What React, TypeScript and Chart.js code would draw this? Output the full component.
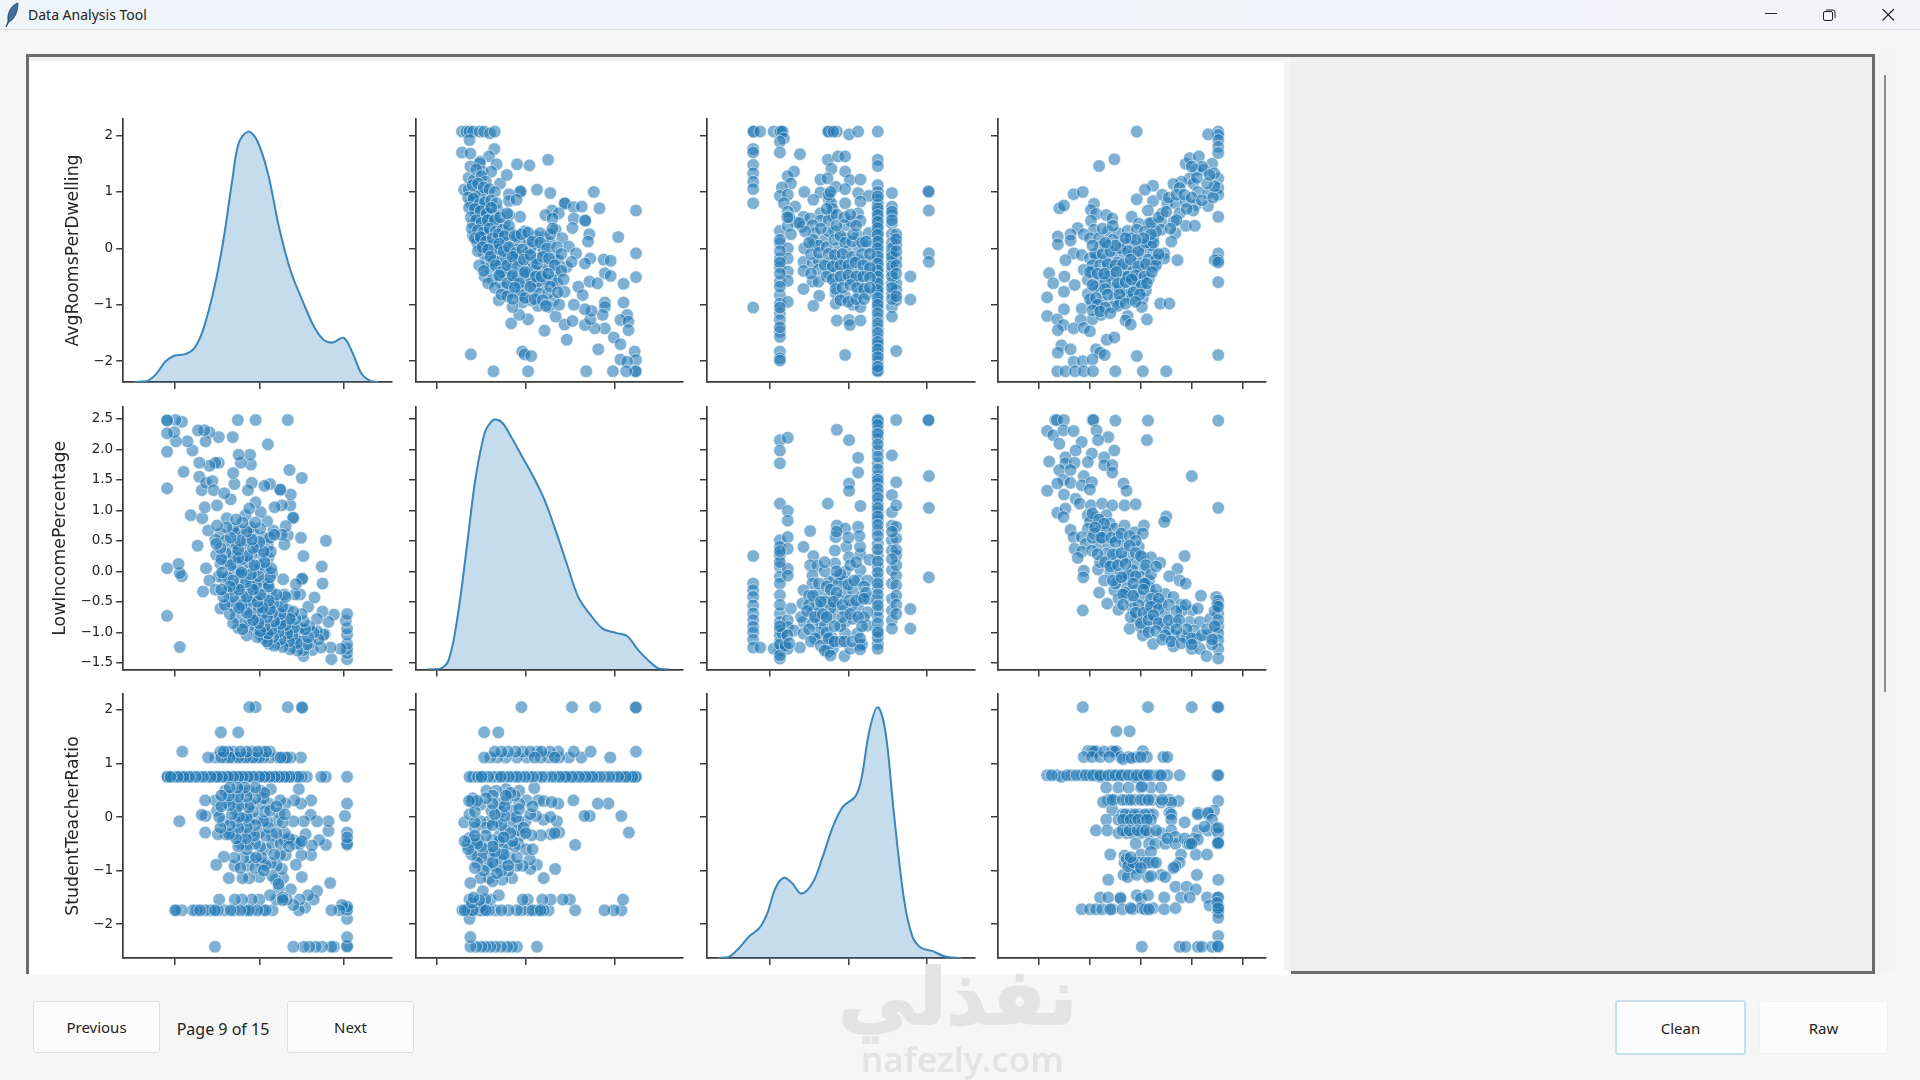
import React, { useEffect, useRef } from "react";
import { Chart, registerables } from "chart.js";

Chart.register(...registerables);

// ---------- axis tick values and labels ----------
const roomsTicks = [-2, -1, 0, 1, 2];
const roomsTickLabels = ["−2", "−1", "0", "1", "2"];
const lowTicks = [-1.5, -1, -0.5, 0, 0.5, 1, 1.5, 2, 2.5];
const lowTickLabels = ["−1.5", "−1.0", "−0.5", "0.0", "0.5", "1.0", "1.5", "2.0", "2.5"];
const studentTicks = [-2, -1, 0, 1, 2];
const studentTickLabels = ["−2", "−1", "0", "1", "2"];
const roomsXTicks = [-2, 0, 2];
const lowXTicks = [-2, 0, 2];
const studentXTicks = [-2, 0, 2];
const fourthXTicks = [-2, -1, 0, 1, 2];
const rowTitles = ["AvgRoomsPerDwelling", "LowIncomePercentage", "StudentTeacherRatio"];

// ---------- density curves (value, density) ----------
const kdeRoomsX = [-2.96,-2.65,-2.44,-2.22,-2.01,-1.75,-1.54,-1.33,-1.06,-0.85,-0.64,-0.49,-0.27,-0.06,0.2,0.46,0.73,1.04,1.31,1.52,1.73,1.99,2.2,2.41,2.62,2.81];
const kdeRoomsY = [0,0.002,0.015,0.039,0.05,0.053,0.064,0.099,0.181,0.27,0.384,0.454,0.476,0.46,0.397,0.295,0.213,0.15,0.102,0.08,0.075,0.084,0.055,0.016,0.002,0];
const kdeLowX = [-2.24,-1.94,-1.74,-1.54,-1.34,-1.14,-0.93,-0.78,-0.68,-0.53,-0.33,-0.08,0.17,0.42,0.67,0.92,1.18,1.43,1.73,2.03,2.28,2.53,2.79,2.99,3.24];
const kdeLowY = [0,0.001,0.018,0.1,0.227,0.361,0.45,0.472,0.476,0.47,0.443,0.405,0.367,0.323,0.265,0.202,0.138,0.107,0.078,0.07,0.064,0.037,0.015,0.002,0];
const kdeStudentX = [-3.3,-3.04,-2.78,-2.52,-2.26,-2.06,-1.85,-1.64,-1.43,-1.2,-0.91,-0.65,-0.39,-0.13,0.18,0.33,0.54,0.75,0.95,1.16,1.42,1.63,1.84,2.15,2.46,2.88];
const kdeStudentY = [0,0.002,0.019,0.041,0.057,0.085,0.133,0.152,0.142,0.122,0.142,0.192,0.249,0.287,0.306,0.338,0.432,0.475,0.426,0.274,0.11,0.041,0.02,0.013,0.003,0];

// ---------- scatter pairs ----------
// [LowIncomePercentage, AvgRoomsPerDwelling]
const lowRoomsSparse: number[][] = [
[-1.44,2.07],[-1.34,2.07],[-1.27,2.07],[-1.19,2.07],[-1.04,2.07],[-0.94,2.07],[-0.81,2.04],[-0.7,2.07],[-1.27,1.92],
[-1.44,1.7],[-1.25,1.68],[-0.71,1.76],[-0.83,1.63],[-1.03,1.54],[-0.66,1.49],[-0.2,1.49],[0.08,1.47],[0.5,1.57],
[-1.29,1.25],[-1.17,1.21],[-1.04,1.51],[-0.98,1.36],[-0.78,1.36],[-0.58,1.15],[-0.43,1.3],[-1.39,1.04],[-1.29,1.04],[-1.04,0.99],[-0.93,0.95],[-1.24,0.8],[-1.09,0.83],[-0.83,0.74],[-0.63,0.67],[-1.14,0.62],[-0.98,0.56],[-0.73,0.62],[-1.19,0.44],[-0.93,0.38],[-0.48,0.44],[-1.19,0.22],[-0.88,0.27],[-0.58,0.18],[-0.33,0.27],[-0.03,0.3],[0.22,0.21],[0.42,0.2],[0.67,0.33],[-1.04,0.03],[-0.78,0.03],[-0.28,0],[0.02,-0.09],[0.27,0.06],[0.62,-0.15],[-0.88,-0.24],[-0.48,-0.24],[-0.13,-0.21],[0.27,-0.18],[0.72,-0.21],[-0.93,-0.5],[-0.63,-0.36],[-0.33,-0.38],[0.02,-0.38],[0.37,-0.41],[0.67,-0.44],[0.92,-0.33],[-0.58,-0.59],[-0.28,-0.59],[0.12,-0.53],[0.62,-0.56],[-0.33,-0.77],[-0.13,-0.83],[0.17,-0.73],[0.37,-0.65],[0.87,-0.77],[-0.08,-0.96],[0.27,-1.02],[0.62,-0.92],[0.12,-0.92],[0.52,-1.04],
[-1.1,0.1],[-0.95,-0.1],[-0.7,-0.1],[-0.55,-0.2],[-0.4,-0.1],[-0.15,0.1],[0.1,0],[0.4,-0.05],[0.55,0.1],[-0.75,-0.55],[-0.45,-0.45],[-0.2,-0.5],[0,-0.6],[0.25,-0.6],[0.45,-0.55],[-0.1,-0.75],[0.3,-0.8],[0.5,-0.8],[-0.95,0.7],[-1.15,0.95],[-0.65,0.45],[-0.8,0.5],
[-1,0.15],[-0.68,0.08],[-0.45,0.1],[-0.2,0.2],[0.05,0.15],[-0.85,-0.35],[-0.6,-0.02],[-0.25,-0.2],[0.15,-0.25],[0.5,-0.3],[-0.05,-0.45],[0.2,-0.4],[-0.5,-0.7],
[1.53,1],[1.66,0.71],[2.48,0.67],[2.08,0.2],[2.48,-0.09],[2.48,-0.51],[1.75,-0.2],[1.91,-0.22],[1.78,-0.44],[1.91,-0.49],[2.2,-0.63],[1.78,-0.96],[2.2,-0.96],[1.78,-1.04],[1.73,-1.18],[2.28,-1.18],[2.13,-1.27],[2.31,-1.3],[2.31,-1.45],[1.78,-1.42],[1.55,-1.42],[1.98,-1.58],[2.13,-1.7],[1.63,-1.79],[2.45,-1.83],[2.48,-1.98],[2.13,-1.97],[2.28,-2.01],[2.48,-2.18],[2.47,-2.18],[2.26,-2.18],[1.96,-2.18],[1.36,-2.18],[0.05,-2.18],[-0.73,-2.18],[-1.24,-1.88],[-0.08,-1.83],[-0.03,-1.88],[0.12,-1.91],[0.92,-1.62],[0.42,-1.46],[-0.33,-1.33],[0.05,-1.26],[-0.15,-1.18],[0.67,-1.21],[0.87,-1.35],[1.05,-1.29],[1.33,-1.36],[1.45,-1.26],[1.48,-1.11],[1.33,-1.08],[1.08,-1],[-0.61,-0.92],[-0.3,-1.04],
[-0.13,1],[-0.12,1.01],[-0.38,0.96],[0.25,1.04],[0.55,0.98],[-0.38,0.84],[-0.21,0.86],[0.87,0.79],[0.88,0.8],[1.08,0.73],[1.26,0.74],[0.59,0.67],[0.44,0.59],[0.74,0.62],[0.6,0.53],[1.08,0.53],[1.33,0.5],[1.34,0.49],[-0.13,0.56],[-0.38,0.59],[1.05,0.36],[1.43,0.25],[1.4,0.12],[0.82,0.18],[0.97,0.03],[1.13,-0.09],[1.45,-0.18],[1.33,-0.27],[1.03,-0.24],[1.43,-0.59],[1.61,-0.62],[1.18,-0.68],[1.28,-0.83]
];
const lowRoomsDense: number[][] = [
[-1.25,1.45],[-1.12,1.4],[-1,1.28],[-0.9,1.18],[-1.2,1.12],[-1.08,1.15],[-0.95,1.08],[-0.82,1.05],[-0.7,1],[-1.3,0.9],[-1.18,0.88],[-1.05,0.78],[-0.92,0.82],[-0.78,0.85],[-0.66,0.8],[-1.28,0.72],[-1.15,0.7],[-1.02,0.66],[-0.88,0.62],[-0.78,0.72],[-1.24,0.55],[-1.12,0.5],[-1,0.45],[-0.86,0.5],[-0.7,0.5],[-0.58,0.55],[-0.42,0.62],[-1.22,0.35],[-1.08,0.32],[-0.96,0.28],[-0.82,0.35],[-0.68,0.3],[-0.52,0.33],[-0.38,0.4],[-1.15,0.18],[-1.02,0.2],[-0.9,0.12],[-0.75,0.18],[-0.62,0.25],[-0.48,0.22],[-0.25,0.22],[-0.1,0.25],[0.05,0.28],[0.32,0.27],[0.55,0.25],[0.6,0.35],
[-1.08,-0.05],[-0.98,0.02],[-0.85,-0.02],[-0.72,-0.22],[-0.6,0.08],[-0.5,-0.05],[-0.38,0.02],[-0.22,-0.08],[-0.08,-0.02],[0.15,0.12],[0.32,0.1],[0.48,0],[0.7,0.02],[0.8,-0.1],[-1.05,-0.3],[-0.95,-0.4],[-0.8,-0.15],[-0.68,-0.3],[-0.55,-0.42],[-0.42,-0.3],[-0.3,-0.15],[-0.18,-0.32],[-0.05,-0.2],[0.1,-0.12],[0.25,-0.28],[0.38,-0.15],[0.52,-0.18],[0.65,-0.3],[0.8,-0.4],[-0.85,-0.62],[-0.7,-0.7],[-0.6,-0.48],[-0.42,-0.62],[-0.3,-0.48],[-0.15,-0.62],[-0.02,-0.42],[0.1,-0.68],[0.22,-0.5],[0.35,-0.5],[0.5,-0.45],[0.7,-0.62],[0.85,-0.55],[-0.55,-0.82],[-0.42,-0.85],[-0.25,-0.7],[-0.02,-0.88],[0.2,-0.9],[0.38,-0.92],[0.55,-0.68],[0.72,-0.78],[0.45,-1.02],[0.75,-1],[-0.3,-0.9]
];
const lowRooms = [...lowRoomsSparse, ...lowRoomsDense];

// [StudentTeacherRatio, AvgRoomsPerDwelling]
const studentRoomsSparse: number[][] = [
[-2.42,2.07],[-2.41,2.07],[-2.42,1.76],[-2.42,1.7],[-2.42,1.48],[-2.42,1.33],[-2.42,1.18],[-2.42,1.05],[-2.42,0.8],[-2.42,-1.05],[-2.24,2.07],
[-1.9,2.07],[-1.74,2.07],[-1.72,2.07],[-1.67,2.07],[-1.64,1.95],[-1.74,1.89],[-1.74,1.7],[-1.74,0.31],[-1.74,0.09],[-1.74,-0.18],[-1.74,-0.33],[-1.74,-0.59],[-1.74,-0.83],[-1.74,-0.98],[-1.74,-1.15],[-1.74,-1.27],[-1.74,-1.48],[-1.74,-1.57],[-1.74,-1.83],[-1.74,-1.95],[-1.74,-1.99],
[0.75,2.07],[0.75,1.57],[0.75,1.46],[0.75,1.12],[0.75,1],[0.75,0.86],[0.75,0.77],[0.75,0.65],[0.75,0.53],[0.75,0.41],[0.75,0.3],[0.75,0.18],[0.75,0.06],[0.75,-0.09],[0.75,-0.21],[0.75,-0.33],[0.75,-0.44],[0.75,-0.56],[0.75,-0.68],[0.75,-0.8],[0.75,-0.95],[0.75,-1.07],[0.75,-1.24],[0.75,-1.42],[0.75,-1.6],[0.75,-1.72],[0.75,-1.86],[0.75,-2.01],[0.75,-2.18],[0.75,-2.17],
[1.11,0.98],[1.11,0.74],[1.11,0.59],[1.11,0.44],[1.11,0.25],[1.11,-0.09],[1.11,-0.24],[1.11,-0.41],[1.11,-0.62],[1.11,-0.8],[1.11,-1.04],[1.11,-1.21],[1.22,0.25],[1.22,0.06],[1.22,-0.18],[1.22,-0.62],[1.22,-0.74],[1.22,-0.92],[1.22,-1.82],
[2.05,1],[2.04,1.01],[2.05,0.67],[2.05,-0.09],[2.05,-0.24],[1.58,-0.5],[1.58,-0.91],
[-0.52,2.07],[-0.5,2.07],[-0.29,2.07],[-0.38,2.07],[0.02,2.02],[0.25,2.07],[-1.23,1.67],[-0.52,1.57],[-0.26,1.63],[-0.08,1.63],[-0.43,1.41],[-0.08,1.36],[-1.38,1.36],[-1.54,1.28],[-0.71,1.22],[-0.53,1.24],[0.04,1.21],[0.31,1.22],[-1.46,1.15],[-1.69,1.08],[-1.12,1],[-0.71,0.99],[-0.32,1.09],[-0.08,1.05],[0.25,0.98],[0.52,0.93],[-1.74,0.93],[-1.54,0.95],[-0.89,0.86],[-0.5,0.86],[-0.08,0.8],[0.31,0.83],[-1.64,0.8],[-1.35,0.74],[-1.54,0.65],[-0.43,0.8],[-0.71,0.62],[0.25,0.62],[-1.14,0.56],[-0.43,0.59],[-0.97,0.53],[-0.71,0.49],[0.31,0.49],[-1.33,0.46],[-1.54,0.4],[-1.17,0.38],[-0.91,0.41],[-0.08,0.41],[0.07,0.47],[-1.46,0.25],[-0.86,0.27],[-0.34,0.3],[0.25,0.22],[0.52,0.27],[-0.08,0.18],
[-1.54,0],[-1.12,0],[-0.86,0.06],[-0.6,0.15],[-0.29,0],[-0.03,-0.06],[0.25,0.03],[0.49,0.03],[-1.54,-0.18],[-1.14,-0.24],[-0.91,-0.27],[-0.76,-0.21],[-0.5,-0.27],[-0.29,-0.21],[-0.08,-0.24],[0.25,-0.21],[0.49,-0.24],[-1.54,-0.41],[-1.14,-0.4],[-0.76,-0.38],[-0.5,-0.44],[-0.29,-0.41],[-0.03,-0.38],[0.25,-0.41],[0.49,-0.44],[-0.91,-0.59],[-0.76,-0.59],[-1.54,-0.58],[-0.32,-0.62],[-0.08,-0.56],[0.12,-0.56],[0.33,-0.62],[-1.14,-0.72],[-0.74,-0.84],[-0.32,-0.8],[-0.08,-0.85],[0.28,-0.8],[0.49,-0.81],[-1.54,-0.95],[-0.89,-1.02],[-0.32,-0.98],[0.12,-1],[0.31,-1.04],[-0.29,-1.28],[0.02,-1.27],[0.04,-1.36],[0.31,-1.28],[-0.08,-1.89]
];
const studentRoomsDense: number[][] = [
[0.75,0.92],[0.75,0.71],[0.75,0.59],[0.75,0.47],[0.75,0.36],[0.75,0.24],[0.75,0.12],[0.75,0],[0.75,-0.15],[0.75,-0.27],[0.75,-0.39],[0.75,-0.5],[0.75,-0.62],[0.75,-0.74],[0.75,-0.88],[0.75,-1],[0.75,-1.15],[0.75,-1.33],[0.75,-1.5],[0.75,-1.66],[0.75,-1.79],[0.75,-1.93],[0.75,-2.1],
[1.11,0.65],[1.11,0.5],[1.11,0.1],[1.11,0],[1.11,-0.15],[1.11,-0.32],[1.11,-0.5],[1.11,-0.7],[1.11,-0.9],[1.22,0.16],[1.22,-0.05],[1.22,-0.3],[1.22,-0.45],[1.22,-0.85],
[-1.74,0.15],[-1.74,-0.05],[-1.74,-0.25],[-1.74,-0.45],[-1.74,-0.68],[-1.74,-1.05],[-1.74,-1.4],[-0.9,0.15],[-0.75,0.05],[-0.95,-0.1],[-0.75,-0.08],[-0.55,0.02],[-0.5,0.3],[-0.35,0.15],[-0.2,0.22],[-0.08,0.1],[0.1,0.12],[0.12,0.25],[0.35,0.1],[0.45,0.12],[-0.5,-0.1],[-0.35,-0.12],[-0.15,-0.1],[0.1,-0.15],[0.35,-0.1],[0.55,-0.1],[-0.6,-0.3],[-0.4,-0.32],[-0.2,-0.3],[0,-0.3],[0.18,-0.25],[0.38,-0.3],[0.55,-0.35],[-0.95,-0.45],[-0.55,-0.5],[-0.4,-0.55],[-0.2,-0.5],[0,-0.48],[0.2,-0.5],[0.38,-0.5],[0.55,-0.52],[-0.32,-0.72],[-0.15,-0.7],[0.05,-0.65],[0.22,-0.7],[0.4,-0.72],[0.55,-0.7],[-0.2,-0.92],[0,-0.95],[0.2,-0.9],[0.4,-0.9],[-0.5,0.5],[-0.4,0.7],[-0.3,0.6],[-0.5,0.95],[-0.45,1],[-0.3,0.4],[-0.55,0.7],[-1.5,0.55],[-1.55,0.55],[-1.1,0.3],[-1,0.1],[-1.25,0.45],[-0.7,0.35],[-0.1,0.55],[0.05,0.6],[0.2,0.4]
];
const studentRooms = [...studentRoomsSparse, ...studentRoomsDense];

// [FourthVariable, AvgRoomsPerDwelling]
const fourthRoomsSparse: number[][] = [
[1.52,2.07],[1.52,2.01],[1.52,1.92],[1.52,1.8],[1.52,1.69],[1.52,1.24],[1.52,1.07],[1.52,0.95],[1.52,0.56],[1.52,-0.09],[1.52,-0.21],[1.45,-0.21],[1.52,-0.25],[1.52,-0.6],[1.52,-1.89],
[-0.08,2.07],[1.32,2.02],[-0.52,1.58],[-0.82,1.46],[0.88,1.5],[0.96,1.6],[1.14,1.63],[1.4,1.5],[1.08,1.39],[1.24,1.39],[1.44,1.33],[0.96,1.24],[0.8,1.18],[0.64,1.14],[1.03,1.15],[0.24,1.11],[0.08,1.04],[0.76,1.07],[1.12,1],[1.32,0.98],[-1.32,0.96],[-1.14,1],[-0.08,0.87],[0.24,0.84],[0.42,0.95],[-0.92,0.79],[0.52,0.8],[0.68,0.8],[0.88,0.83],[1.08,0.77],[1.32,0.75],[-1.6,0.71],[-1.51,0.76],[-0.98,0.68],[0.14,0.67],[0.42,0.62],[0.76,0.62],[1.03,0.67],[-0.88,0.61],[-0.68,0.59],[-0.56,0.53],[-0.18,0.56],[-0.98,0.49],[-0.04,0.44],[0.16,0.44],[0.4,0.47],[0.64,0.47],[0.88,0.4],[1.06,0.4],[-1.24,0.36],[-0.92,0.33],[-0.64,0.3],[-0.44,0.27],[-0.26,0.31],[-0.08,0.33],[0.08,0.3],[0.24,0.18],[0.4,0.33],[0.68,0.27],[-1.63,0.21],[-1.38,0.25],[-1.12,0.25],[-1,0.18],[-0.82,0.18],[-0.55,0.15],[-1.63,0.07],[-1.38,0.14],[-0.8,0.03],[-0.32,0.09],[-0.12,0.03],[0.06,0.06],[0.6,0.12],
[-1.32,-0.09],[-1.16,-0.12],[-1,-0.18],[-0.88,-0.15],[-0.52,-0.12],[-0.32,-0.09],[-0.16,-0.12],[0.04,-0.09],[0.24,-0.09],[0.46,-0.09],[0.46,-0.18],[-1.48,-0.21],[0.72,-0.21],[-1.12,-0.38],[-0.96,-0.41],[-0.64,-0.38],[-0.4,-0.41],[-0.16,-0.41],[0.08,-0.38],[0.24,-0.33],[-1.8,-0.44],[-1.5,-0.5],[-1.04,-0.56],[-0.8,-0.53],[-0.56,-0.56],[-0.36,-0.56],[0,-0.56],[0.16,-0.53],[-1.72,-0.62],[-1.3,-0.65],[-0.8,-0.74],[-0.56,-0.71],[-0.28,-0.74],[-0.08,-0.71],[-1.51,-0.77],[-1.84,-0.87],[-1.04,-0.81],[-0.76,-0.95],[-0.52,-0.89],[-0.28,-0.83],[0.04,-0.89],[0.38,-0.98],[0.56,-0.98],[-1.16,-1.07],[-0.96,-0.98],[-0.56,-1.04],[0.02,-1.04],[-1.51,-1.08],[-1.84,-1.2],[-0.95,-1.26],[-0.78,-1.18],[-1.64,-1.26],[-1.18,-1.27],[-0.26,-1.2],[-0.3,-1.28],[-0.2,-1.35],[0.12,-1.26],
[-0.7,-0.2],[-0.45,-0.25],[-0.25,-0.3],[-0.05,-0.25],[0.15,-0.2],[-0.6,-0.48],[-0.3,-0.5],[-0.12,-0.6],[-0.42,-0.7],[-0.7,-0.6],[-0.9,-0.68],[0.1,-0.75],[-0.18,-0.9],[-0.4,-0.95],[-0.65,0.05],[-0.2,0.18],[0.2,0.05],[0.3,-0.2],
[-1.52,-1.36],[-1.63,-1.45],[-1.32,-1.42],[-1.12,-1.41],[-1,-1.47],[-0.67,-1.62],[-0.52,-1.58],[-1.56,-1.72],[-1.38,-1.79],[-1.63,-1.85],[-0.88,-1.79],[-0.8,-1.85],[-0.71,-1.89],[-0.08,-1.91],[-1.32,-2.01],[-1.14,-2],[-0.95,-1.97],[-1.64,-2.18],[-1.48,-2.18],[-1.29,-2.18],[-1.12,-2.18],[-0.94,-2.18],[-0.5,-2.18],[0.04,-2.18],[0.5,-2.18]
];
const fourthRoomsDense: number[][] = [
[-0.9,-0.1],[-0.75,-0.1],[-0.6,-0.05],[-0.4,0],[-0.25,-0.05],[-0.05,-0.05],[0.1,0.1],[0.25,0.1],[-0.95,-0.3],[-0.8,-0.3],[-0.65,-0.28],[-0.5,-0.3],[-0.35,-0.28],[-0.2,-0.2],[-0.05,-0.32],[0.1,-0.28],[0.3,-0.3],[0.35,-0.1],[-1,-0.42],[-0.85,-0.45],[-0.72,-0.45],[-0.48,-0.42],[-0.25,-0.5],[-0.1,-0.48],[0.07,-0.5],[0.22,-0.42],[-0.95,-0.65],[-0.7,-0.72],[-0.45,-0.62],[-0.3,-0.6],[-0.18,-0.55],[0.02,-0.66],[0.12,-0.62],[-1,-0.9],[-0.88,-0.88],[-0.65,-0.82],[-0.42,-0.82],[-0.15,-0.78],[-0.02,-0.82],[-0.85,-1],[-0.7,-1.05],[-0.45,-1.02],[-0.3,-0.98],[-0.1,-0.95],[-0.95,-1.1],[-0.8,-1.12],[-0.6,-1.15],[0.3,0.3],[0.2,0.45],[0.35,0.55],[0.5,0.65],[0.55,0.9],[0.7,0.95],[0.85,0.95],[1,0.9],[1.2,0.85],[1.42,0.9],[1.45,1.1],[1.3,1.15],[1.1,1.25],[1.2,1.45],[1,1.45],[1.35,1.3],[0.9,0.7],[0.7,0.5],[0.58,0.35],[0.2,0.25],[0.05,0.18],[-0.1,0.15],[-0.3,0.18],[-0.5,0.05],[-0.7,0.1],[-0.95,0.05],[-0.75,0.35],[-0.55,0.4]
];
const fourthRooms = [...fourthRoomsSparse, ...fourthRoomsDense];

// [StudentTeacherRatio, LowIncomePercentage]
const studentLowSparse: number[][] = [
[-2.42,0.25],[-2.42,-0.2],[-2.42,-0.31],[-2.42,-0.42],[-2.42,-0.56],[-2.42,-0.69],[-2.42,-0.8],[-2.42,-0.91],[-2.42,-1],[-2.42,-1.12],[-2.42,-1.25],[-2.24,-1.25],
[-1.74,2.15],[-1.74,1.98],[-1.74,1.77],[-1.74,1.11],[-1.74,0.51],[-1.74,0.4],[-1.74,0.26],[-1.74,0.07],[-1.74,-0.09],[-1.74,-0.2],[-1.74,-0.39],[-1.74,-0.69],[-1.74,-0.83],[-1.74,-0.97],[-1.74,-1.05],[-1.74,-1.16],[-1.74,-1.3],[-1.74,-1.43],
[-1.54,2.19],[-1.54,0.99],[-1.54,0.83],[-1.54,0.56],[-1.54,0.37],[-1.54,0.04],[-1.54,-0.07],[-1.54,-0.8],[-1.54,-0.91],[-1.54,-1.27],
[0.75,2.49],[0.75,2.47],[0.75,2.31],[0.75,2.17],[0.75,1.98],[0.75,1.77],[0.75,1.57],[0.75,1.44],[0.75,1.27],[0.75,1.11],[0.75,0.97],[0.75,0.84],[0.75,0.67],[0.75,0.45],[0.75,0.26],[0.75,0.07],[0.75,-0.12],[0.75,-0.28],[0.75,-0.48],[0.75,-0.64],[0.75,-0.75],[0.75,-0.97],[0.75,-1.19],[0.75,-1.27],
[1.11,1.9],[1.11,1.25],[1.11,0.97],[1.11,0.75],[1.11,0.51],[1.11,0.34],[1.11,0.02],[1.11,-0.2],[1.11,-0.45],[1.11,-0.64],[1.11,-0.8],[1.11,-0.94],[1.22,2.48],[1.22,1.46],[1.22,1.08],[1.22,0.73],[1.22,0.54],[1.22,0.26],[1.22,-0.07],[1.22,-0.23],
[2.05,2.47],[2.04,2.48],[2.05,1.56],[2.05,1.04],[2.05,-0.1],[1.58,-0.62],[1.58,-0.94],
[-0.29,2.32],[0.02,2.15],[0.25,1.86],[0.25,1.62],[0.02,1.44],[0.02,1.32],[-0.52,1.11],[0.31,1.07],[-0.97,0.66],[-0.29,0.75],[-0.08,0.7],[0.25,0.73],[-0.32,0.56],[-1.14,0.4],[-0.05,0.4],[-0.34,0.34],[-0.89,0.25],[0.02,0.23],[0.31,0.28],[0.54,0.19],[-0.97,0.1],[-0.34,0.13],[-0.79,0.09],[-0.08,-0.01],[0.31,0.02],[-0.91,-0.07],[-0.34,-0.12],[-0.5,-0.17],[-0.08,-0.17],[0.25,-0.15],[0.49,-0.15],[-0.91,-0.2],[-1.14,-0.31],[-0.76,-0.37],[-0.5,-0.42],[-0.08,-0.34],[0.12,-0.31],[0.33,-0.42],[0.52,-0.45],[-1.17,-0.53],[-1.46,-0.61],[-0.91,-0.69],[-0.71,-0.67],[-0.34,-0.59],[-0.08,-0.64],[0.25,-0.59],[0.49,-0.67],[-1.14,-0.83],[-0.91,-0.86],[-0.71,-0.83],[-0.43,-0.75],[-0.08,-0.83],[0.12,-0.78],[0.49,-0.89],[-1.38,-0.97],[-1.14,-1.02],[-0.71,-1.08],[-0.43,-1.08],[-0.08,-1.02],[0.23,-1.02],[-1.23,-1.25],[-0.52,-1.32],[-0.39,-1.27],[-0.1,-1.39],[0.05,-1.27],[0.28,-1.21],[-1.9,-1.27],[-1.68,-1.02],
[-1.2,-0.75],[-0.6,-0.5],[-0.6,-0.9],[-0.25,-0.45],[-0.2,-0.9],[0.1,-0.55],[0.4,-0.75],[-0.8,-0.55],[-1,-0.4],[-0.45,-0.6],[-0.25,-0.2],[-0.6,0],[0.35,-1.2],[-0.5,-1.2],[-0.75,-1],[-0.2,-1.15]
];
const studentLowDense: number[][] = [
[0.75,2.4],[0.75,2.25],[0.75,2.08],[0.75,1.88],[0.75,1.67],[0.75,1.5],[0.75,1.35],[0.75,1.2],[0.75,1.04],[0.75,0.9],[0.75,0.76],[0.75,0.58],[0.75,0.36],[0.75,0.16],[0.75,-0.02],[0.75,-0.2],[0.75,-0.38],[0.75,-0.56],[0.75,-0.85],[0.75,-1.08],[0.75,-1],
[-1.74,-0.55],[-1.74,-0.9],[-1.74,-1.2],[-1.74,-1.38],[-1.74,0.15],[-1.74,0.33],[-1,-0.55],[-0.9,-0.4],[-0.75,-0.2],[-0.7,-0.5],[-0.55,-0.25],[-0.45,-0.3],[-0.3,-0.35],[-0.2,-0.05],[0,-0.22],[0.15,-0.15],[0.4,-0.25],[0.45,-0.35],[-1.05,-0.65],[-0.85,-0.75],[-0.65,-0.7],[-0.55,-0.75],[-0.38,-0.5],[-0.15,-0.55],[0.02,-0.48],[0.2,-0.48],[0.4,-0.45],[-1,-0.95],[-0.85,-1.1],[-0.55,-1],[-0.35,-0.9],[-0.15,-0.75],[0.05,-0.7],[0.25,-0.75],[0.35,-0.9],[-0.95,-1.15],[-0.7,-1.22],[-0.5,-1.1],[-0.35,-1.15],[-0.1,-1.15],[0.1,-1.15],[0.3,-1.1],[-0.6,-1.3],[-0.45,-1.38],[0.3,-1.28],[1.22,-0.4],[1.22,-0.55],[1.22,-0.7],[1.22,0.1],[1.22,0.35],[1.11,0.2],[1.11,0.65],[-0.3,0],[0.05,0.1],[0.2,0.15],[-0.6,0.15],[0.3,0.4],[0.28,0.58],[0,0.55],[-0.3,0.65],[-1.6,-1.22],[-1.55,-1.05],[-1.5,-1.18]
];
const studentLow = [...studentLowSparse, ...studentLowDense];

// [FourthVariable, LowIncomePercentage]
const fourthLowSparse: number[][] = [
[-1.68,2.48],[-1.65,2.48],[-1.51,2.48],[-0.95,2.48],[-0.93,2.48],[-0.5,2.47],[0.14,2.47],[1.52,2.47],[-1.84,2.3],[-0.87,2.31],[-1.72,2.23],[-1.52,2.31],[-1.32,2.3],[-0.64,2.2],[-0.84,2.15],[0.12,2.15],[-1.6,2.09],[-1.16,2.12],[-1.28,1.98],[-0.52,1.98],[-0.96,1.93],[-1.04,1.79],[-0.72,1.87],[-1.8,1.8],[-1.48,1.87],[-1.48,1.77],[-1.3,1.78],[-0.72,1.74],[-0.56,1.74],[-1.6,1.66],[-1.38,1.66],[-0.56,1.62],[-1.12,1.56],[-1.52,1.5],[1,1.56],[-1.64,1.44],[-1.38,1.45],[-1.16,1.41],[-0.96,1.46],[-0.34,1.44],[-1,1.34],[-0.28,1.32],[-1.84,1.32],[-1.51,1.26],[-1.28,1.19],[-1.2,1.11],[-0.98,1.08],[-0.76,1.11],[-0.56,1.08],[-0.32,1.08],[-0.1,1.1],[1.52,1.04],[-1.64,0.96],[-1.48,1.03],[-1.52,0.89],[-1.04,0.92],[-0.88,0.89],[-0.68,0.92],[0.5,0.9],[0.46,0.81],[-1,0.81],[-0.6,0.78],[-1.38,0.68],[-1.04,0.7],[-0.8,0.67],[-0.52,0.7],[-0.32,0.75],[0.06,0.75],
[-1.32,0.56],[-1.16,0.56],[-0.92,0.62],[-0.68,0.64],[-0.44,0.56],[-0.12,0.64],[0.04,0.62],[-1.08,0.45],[-0.84,0.43],[-0.64,0.45],[-0.32,0.45],[-0.04,0.4],[-1.3,0.37],[-1.16,0.32],[-0.96,0.34],[-0.68,0.29],[-0.48,0.29],[-0.24,0.26],[0.04,0.23],[0.2,0.23],[0.86,0.25],[-1.24,0.22],[-0.36,0.18],[-0.12,0.13],[0.38,0.14],[-1.12,0.01],[-1.13,-0.1],[-0.84,0.03],[-0.6,-0.01],[-0.4,-0.04],[-0.16,0.02],[0.08,0.04],[0.72,0.04],[-0.72,-0.15],[-0.44,-0.15],[-0.24,-0.12],[0,-0.09],[0.16,-0.15],[0.56,-0.08],[0.76,-0.15],[0.88,-0.2],[-0.52,-0.31],[-0.28,-0.28],[-0.08,-0.31],[0.16,-0.26],[-0.82,-0.35],[-0.44,-0.45],[-0.2,-0.48],[0,-0.42],[0.24,-0.39],[0.48,-0.37],[0.64,-0.42],[1.18,-0.4],[1.48,-0.42],[1.52,-0.48],[-0.66,-0.53],[-0.44,-0.63],[-0.16,-0.61],[0.12,-0.56],[0.4,-0.53],[0.79,-0.55],[1,-0.64],[1.12,-0.61],
[-1.14,-0.64],[-0.08,-0.78],[0.16,-0.69],[0.48,-0.72],[0.68,-0.83],[0.96,-0.83],[1.16,-0.83],[1.36,-0.78],[1.52,-0.69],[-0.22,-0.94],[0,-0.91],[0.16,-0.91],[0.44,-0.91],[0.64,-1.05],[0.8,-1.05],[1.04,-0.97],[1.32,-1.05],[1.52,-0.91],[0.04,-1.05],[0.24,-1.19],[0.64,-1.23],[1,-1.27],[1.16,-1.27],[1.29,-1.39],[1.52,-1.02],[1.52,-1.13],[1.52,-1.27],[1.52,-1.43],[1.5,-0.55],
[-0.5,-0.2],[-0.3,-0.35],[-0.05,-0.55],[0.3,-0.55],[0.3,-0.8],[-0.2,-0.75],[0.55,-0.95],[0.9,-1.1],[1.1,-1.1],[1.4,-1.2],[0.8,-0.65],[-0.8,0.15],[-0.55,0.12],[-0.25,-0.05],[-0.95,0.55],[-0.75,0.55]
];
const fourthLowDense: number[][] = [
[-0.95,0.95],[-0.82,0.85],[-0.72,0.78],[-0.9,0.72],[-0.78,0.55],[-0.58,0.55],[-0.5,0.48],[-0.38,0.62],[-0.22,0.58],[-0.1,0.5],[-0.85,0.28],[-0.7,0.15],[-0.55,0.28],[-0.38,0.3],[-0.22,0.42],[-0.1,0.3],[0,0.25],[0.1,0.1],[-0.6,0.08],[-0.45,0.1],[-0.3,0.12],[-0.1,-0.08],[0.05,-0.2],[0.2,-0.05],[0.3,0.08],[-0.55,-0.15],[-0.38,-0.1],[-0.15,-0.2],[0.08,-0.2],[0.3,-0.3],[-0.35,-0.38],[-0.15,-0.4],[0.05,-0.3],[0.2,-0.45],[0.35,-0.45],[-0.35,-0.55],[-0.1,-0.68],[0.05,-0.68],[0.2,-0.58],[0.35,-0.62],[0.55,-0.55],[0.7,-0.65],[0.88,-0.55],[0,-0.85],[0.15,-0.8],[0.25,-0.72],[0.35,-0.85],[0.55,-0.8],[0.75,-0.8],[0.9,-0.95],[0.15,-1],[0.3,-0.98],[0.48,-1.05],[0.7,-0.95],[1,-1.1],[1.2,-1.05],[1.3,-0.95],[0.42,-1.12],[0.6,-1.15],[0.8,-1.18],[1,-1.2],[1.45,-0.65],[1.52,-0.8],[1.45,-0.9],[1.4,-1.12],[1.52,-0.58]
];
const fourthLow = [...fourthLowSparse, ...fourthLowDense];

// [FourthVariable, StudentTeacherRatio]
const fourthStudentSparse: number[][] = [
[-1.14,2.05],[0.14,2.05],[1,2.05],[1.5,2.05],[1.52,2.05],[-0.48,1.6],[-0.22,1.6],
[-1.04,1.23],[-0.96,1.23],[-0.88,1.23],[-0.56,1.23],[-0.48,1.23],[0.04,1.23],[-0.92,1.22],[-0.52,1.22],
[-1.12,1.12],[-0.96,1.12],[-0.8,1.12],[-0.4,1.12],[-0.24,1.12],[-0.08,1.12],[0.12,1.12],[0.44,1.12],[0.52,1.12],[-0.35,1.08],
[-1.84,0.78],[-1.64,0.78],[-1.56,0.75],[-1.36,0.78],[-1.16,0.78],[-1,0.78],[-0.88,0.78],[-0.72,0.76],[-0.56,0.78],[-0.44,0.78],[-0.32,0.78],[-0.16,0.78],[0,0.78],[0.24,0.78],[0.52,0.78],[0.76,0.78],[1.5,0.78],[1.52,0.78],[-0.8,0.75],[-0.1,0.74],[0.1,0.78],
[-0.68,0.55],[-0.44,0.55],[-0.24,0.55],[0,0.55],[0.2,0.55],[0.4,0.55],[0.02,0.57],
[-0.64,0.32],[-0.52,0.32],[-0.28,0.32],[-0.12,0.32],[0.08,0.32],[0.24,0.32],[0.56,0.32],[0.74,0.3],[1.52,0.3],[-0.74,0.28],[0.4,0.27],[0.6,0.27],
[-0.56,0.13],[0.56,0.08],[1.12,0.08],[1.32,0.05],[1.44,0.12],
[-0.36,0.05],[-0.2,0.05],[-0.04,0.05],[0.16,0.05],[0.24,0.05],[0.6,0.05],[1.12,0.05],[1.32,0.08],
[-0.68,-0.05],[-0.44,-0.05],[-0.28,-0.05],[-0.12,-0.05],[0.04,-0.05],[0.2,-0.05],[0.6,-0.05],[0.86,-0.1],[1.4,-0.05],
[-0.88,-0.25],[-0.66,-0.25],[-0.44,-0.3],[-0.28,-0.3],[-0.16,-0.3],[0.04,-0.25],[0.4,-0.3],[0.6,-0.25],[1.12,-0.25],[1.32,-0.25],[1.48,-0.22],[1.52,-0.3],[0,-0.3],[0.16,-0.3],[0.68,-0.37],[1.04,-0.4],[1.52,-0.2],
[-0.1,-0.5],[0.16,-0.5],[0.28,-0.5],[0.48,-0.5],[0.68,-0.5],[0.92,-0.5],[1.12,-0.42],[1.52,-0.5],[1.51,-0.49],
[-0.6,-0.7],[0,-0.7],[0.2,-0.65],[0.79,-0.7],[1.08,-0.7],[1.3,-0.7],[-0.32,-0.72],
[-0.32,-0.85],[-0.24,-0.85],[-0.04,-0.85],[0.08,-0.85],[0.24,-0.85],[0.76,-0.85],[-0.28,-0.78],[0.68,-0.92],
[-0.18,-0.95],[-0.08,-0.95],[0.64,-0.95],
[-0.34,-1.08],[-0.26,-1.12],[-0.08,-1.08],[0.14,-1.12],[0.4,-1.08],[0.48,-1.12],[1.1,-1.08],
[-0.64,-1.17],[1.52,-1.17],[0.68,-1.3],[0.9,-1.3],[1.08,-1.35],
[-0.8,-1.5],[-0.64,-1.5],[-0.4,-1.5],[-0.08,-1.46],[0,-1.52],[0.14,-1.46],[0.46,-1.5],[0.79,-1.5],[0.96,-1.5],[1.3,-1.5],[1.5,-1.5],[-0.4,-1.52],
[1.35,-1.65],[1.52,-1.65],[-1.16,-1.72],[-1,-1.72],[-0.88,-1.72],[-0.76,-1.72],[-0.56,-1.72],[-0.36,-1.72],[-0.16,-1.72],[0,-1.7],[0.08,-1.72],[0.24,-1.7],[0.46,-1.72],[0.68,-1.7],[1.52,-1.72],[1.52,-1.78],[1.52,-1.88],[1.52,-2.22],
[0.02,-2.42],[0.76,-2.42],[0.88,-2.42],[1.12,-2.42],[1.2,-2.42],[1.4,-2.42],[1.52,-2.42],[1.51,-2.41]
];
const fourthStudentDense: number[][] = [
[-1.75,0.78],[-1.45,0.78],[-1.26,0.78],[-1.08,0.78],[-0.94,0.78],[-0.8,0.78],[-0.64,0.78],[-0.5,0.78],[-0.38,0.78],[-0.24,0.78],[-0.08,0.78],[0.06,0.78],[0.16,0.78],[0.36,0.78],[0.4,0.78],[-0.72,1.22],[-0.62,1.12],[-0.18,1.1],[0,1.12],[-0.56,0.32],[-0.36,0.32],[-0.2,0.32],[0,0.32],[0.15,0.32],[0.42,0.32],[-0.3,0.05],[-0.12,0.05],[0.08,0.05],[-0.35,-0.05],[-0.2,-0.05],[-0.05,-0.05],[0.12,-0.05],[-0.36,-0.25],[-0.22,-0.25],[-0.06,-0.25],[0.1,-0.25],[0.3,-0.25],[0.52,-0.4],[0.86,-0.4],[0.96,-0.5],[1.52,-0.48],[1.25,-0.18],[1,-0.5],[-0.25,-0.92],[-0.15,-0.85],[0.15,-0.85],[0.3,-0.85],[0,-0.95],[0.2,-1.1],[-0.2,-0.75],[1.52,-1.5],[1.5,-1.6],[1.52,-1.7],[-0.2,-1.7],[0.16,-1.72],[-0.6,-1.72]
];
const fourthStudent = [...fourthStudentSparse, ...fourthStudentDense];

// ---------- drawing ----------
const swap = (pts: number[][]) => pts.map(([a, b]) => [b, a]);
const AXIS = "#3a3a3a";
const TEXT = "#262626";
const FONT = "'DejaVu Sans', sans-serif";
const UI_FONT = "'Noto Sans', sans-serif";

// pixel boxes of the grid
const colBox = [[123.2, 391.5], [416, 682.6], [707.3, 975], [998.4, 1266.5]];
const rowBox = [[119, 382], [406.7, 669.3], [694.3, 958.3]];
// value limits of each axis
const colLimits = [[-3.216, 3.118], [-2.475, 3.53], [-3.595, 3.216], [-2.805, 2.46]];
const rowLimits = [[-2.37, 2.293], [-1.611, 2.693], [-2.63, 2.295]];
const colTicks = [roomsXTicks, lowXTicks, studentXTicks, fourthXTicks];
const rowTicks = [roomsTicks, lowTicks, studentTicks];
const rowLabels = [roomsTickLabels, lowTickLabels, studentTickLabels];
const titleGap = [23.5, 9.8, 23.5];

const panels: { r: number; c: number; pts?: number[][]; kx?: number[]; ky?: number[] }[] = [
  { r: 0, c: 0, kx: kdeRoomsX, ky: kdeRoomsY },
  { r: 0, c: 1, pts: lowRooms },
  { r: 0, c: 2, pts: studentRooms },
  { r: 0, c: 3, pts: fourthRooms },
  { r: 1, c: 0, pts: swap(lowRooms) },
  { r: 1, c: 1, kx: kdeLowX, ky: kdeLowY },
  { r: 1, c: 2, pts: studentLow },
  { r: 1, c: 3, pts: fourthLow },
  { r: 2, c: 0, pts: swap(studentRooms) },
  { r: 2, c: 1, pts: swap(studentLow) },
  { r: 2, c: 2, kx: kdeStudentX, ky: kdeStudentY },
  { r: 2, c: 3, pts: fourthStudent },
];

function Panel({ r, c, pts, kx, ky }: { r: number; c: number; pts?: number[][]; kx?: number[]; ky?: number[] }) {
  const ref = useRef<HTMLCanvasElement>(null);
  const [x0, x1] = colBox[c];
  const [y0, y1] = rowBox[r];
  const canvasLeft = c === 0 ? 40 : x0 - 12;
  const canvasTop = y0 - 4;
  const w = Math.ceil(x1 - canvasLeft + 2);
  const h = Math.ceil(y1 - canvasTop + 10);
  useEffect(() => {
    const zero = (s: any) => {
      s.paddingTop = 0; s.paddingBottom = 0; s.paddingLeft = 0; s.paddingRight = 0;
    };
    const dataset: any = kx
      ? {
          type: "line",
          data: kx.map((v, i) => ({ x: v, y: (ky as number[])[i] })),
          yAxisID: "d",
          borderColor: "#3a85ba",
          borderWidth: 2,
          backgroundColor: "rgba(31,119,180,0.26)",
          fill: "origin",
          tension: 0.35,
          pointRadius: 0,
        }
      : {
          type: "scatter",
          data: (pts as number[][]).map(([a, b]) => ({ x: a, y: b })),
          yAxisID: "y",
          backgroundColor: "rgba(31,119,180,0.58)",
          borderColor: "rgba(255,255,255,0.55)",
          borderWidth: 1,
          pointRadius: 6.3,
          clip: false,
        };
    const chart = new Chart(ref.current as HTMLCanvasElement, {
      data: { datasets: [dataset] },
      options: {
        animation: false,
        responsive: false,
        devicePixelRatio: 1,
        layout: { autoPadding: false, padding: { top: y0 - canvasTop, right: canvasLeft + w - x1, left: 0, bottom: 0 } },
        plugins: { legend: { display: false }, tooltip: { enabled: false }, title: { display: false } },
        scales: {
          x: {
            type: "linear",
            min: colLimits[c][0],
            max: colLimits[c][1],
            afterBuildTicks: (s: any) => { s.ticks = colTicks[c].map((v) => ({ value: v })); },
            afterFit: (s: any) => { s.height = h - (y1 - canvasTop); zero(s); },
            ticks: { display: false },
            grid: { display: true, drawOnChartArea: false, drawTicks: true, tickLength: 7, tickColor: AXIS, lineWidth: 1.5 },
            border: { display: true, color: AXIS, width: 1.7 },
          },
          y: {
            type: "linear",
            position: "left",
            min: rowLimits[r][0],
            max: rowLimits[r][1],
            afterBuildTicks: (s: any) => { s.ticks = rowTicks[r].map((v) => ({ value: v })); },
            afterFit: (s: any) => { s.width = x0 - canvasLeft; zero(s); },
            ticks: {
              display: c === 0,
              autoSkip: false,
              padding: 3,
              color: TEXT,
              font: { family: FONT, size: 13.5 },
              callback: (v: any) => rowLabels[r][rowTicks[r].indexOf(Number(v))],
            },
            title: {
              display: c === 0,
              text: rowTitles[r],
              color: TEXT,
              font: { family: FONT, size: 17.3 },
              padding: { top: titleGap[r], bottom: 0 },
            },
            grid: { display: true, drawOnChartArea: false, drawTicks: true, tickLength: 7, tickColor: AXIS, lineWidth: 1.5 },
            border: { display: true, color: AXIS, width: 1.7 },
          },
          ...(kx ? { d: { type: "linear", display: false, min: 0, max: 0.5 } } : {}),
        },
      } as any,
    } as any);
    return () => chart.destroy();
  }, []);
  return (
    <canvas
      ref={ref}
      width={w}
      height={h}
      style={{ position: "absolute", left: canvasLeft, top: canvasTop, width: w, height: h }}
    />
  );
}

function Button({ x, w, y, h, label, border }: { x: number; w: number; y: number; h: number; label: string; border: string }) {
  return (
    <div
      style={{
        position: "absolute", left: x, top: y, width: w, height: h, boxSizing: "border-box",
        background: "#fcfcfc", border, borderRadius: 3, display: "flex", alignItems: "center",
        justifyContent: "center", font: `15px ${UI_FONT}`, color: "#222",
      }}
    >
      {label}
    </div>
  );
}

export default function App() {
  useEffect(() => {
    document.body.style.margin = "0";
  }, []);
  return (
    <div style={{ position: "fixed", left: 0, top: 0, width: 1920, height: 1080, overflow: "hidden", background: "#f6f6f6" }}>
      {/* title bar */}
      <div style={{ position: "absolute", left: 0, top: 0, width: 1920, height: 29, background: "linear-gradient(90deg,#eff4f8,#f3f3f8)", borderBottom: "1px solid #dcdcdc" }} />
      <svg width="16" height="26" style={{ position: "absolute", left: 4, top: 2 }} viewBox="0 0 16 26">
        <path d="M14 1 C7 3 3 11 4 19 L2 25 L5 20 C11 17 14 9 14 1 Z" fill="#3f6f9f" stroke="#1e3550" strokeWidth="0.7" />
      </svg>
      <div style={{ position: "absolute", left: 28, top: 5, font: `14px ${UI_FONT}`, color: "#222" }}>Data Analysis Tool</div>
      <svg width="150" height="29" style={{ position: "absolute", left: 1760, top: 0 }}>
        <line x1="5" y1="13.5" x2="17" y2="13.5" stroke="#222" strokeWidth="1" />
        <rect x="63.5" y="11.5" width="9" height="9" rx="1.5" fill="none" stroke="#222" />
        <path d="M66 10 h7 a2 2 0 0 1 2 2 v6" fill="none" stroke="#222" />
        <path d="M122.5 9 L134 20.5 M134 9 L122.5 20.5" stroke="#222" strokeWidth="1.1" />
      </svg>

      {/* framed viewing area */}
      <div style={{ position: "absolute", left: 1875, top: 55, width: 20, height: 918, background: "#f3f3f3" }} />
      <div style={{ position: "absolute", left: 1884, top: 75, width: 2, height: 617, background: "#8c8c8c" }} />
      <div style={{ position: "absolute", left: 26, top: 54, width: 1849, height: 920, boxSizing: "border-box", background: "#efefef", border: "3px solid #6b6b6b" }} />
      <div style={{ position: "absolute", left: 29, top: 61, width: 1255, height: 914, background: "#ffffff" }} />
      <div style={{ position: "absolute", left: 1284, top: 57, width: 7, height: 918, background: "#f3f3f3" }} />
      <div style={{ position: "absolute", left: 29, top: 971, width: 1262, height: 4, background: "#ffffff" }} />
      <div style={{ position: "absolute", left: 26, top: 975, width: 1262, height: 6, background: "#f6f6f6" }} />

      {panels.map((p) => (
        <Panel key={`${p.r}-${p.c}`} {...p} />
      ))}

      {/* watermark */}
      <div dir="rtl" style={{ position: "absolute", left: 864, top: 952, width: 213, textAlign: "center", font: `bold 78px 'DejaVu Sans', sans-serif`, color: "#e3e3e3", whiteSpace: "nowrap", WebkitTextStroke: "2px #e3e3e3" }}>نفذلي</div>
      <div style={{ position: "absolute", left: 861, top: 1035, width: 197, textAlign: "center", font: `600 35px ${UI_FONT}`, color: "#e3e3e3", whiteSpace: "nowrap" }}>nafezly.com</div>

      {/* controls */}
      <Button x={33} y={1001} w={127} h={52} label="Previous" border="1px solid #dedede" />
      <div style={{ position: "absolute", left: 163, width: 120, top: 1018, textAlign: "center", font: `16px ${UI_FONT}`, color: "#222" }}>Page 9 of 15</div>
      <Button x={287} y={1001} w={127} h={52} label="Next" border="1px solid #dedede" />
      <Button x={1615} y={1000} w={131} h={55} label="Clean" border="2px solid #c6dfe8" />
      <Button x={1759} y={1001} w={129} h={53} label="Raw" border="1px solid #f1f1f1" />
    </div>
  );
}
